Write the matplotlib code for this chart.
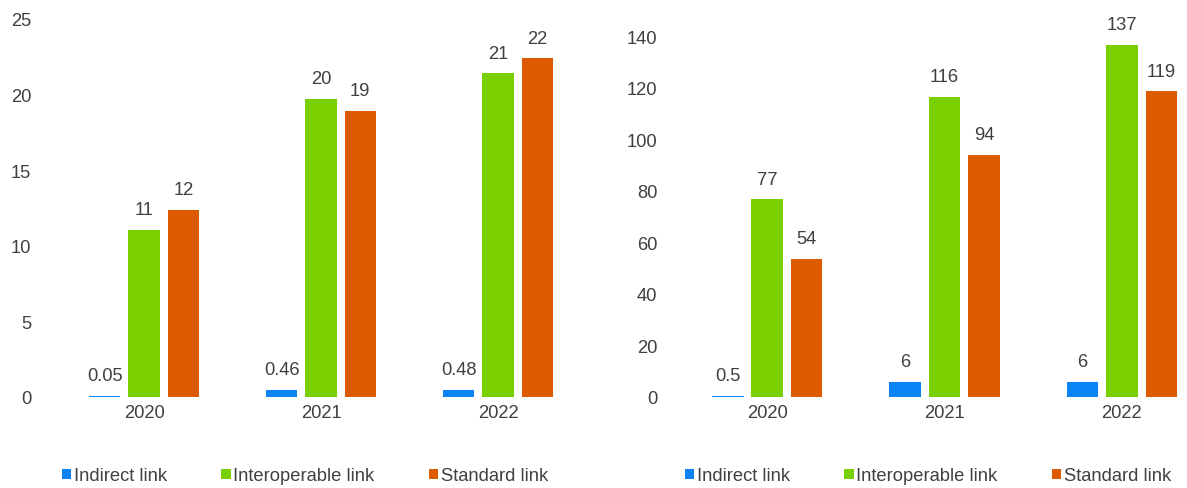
import matplotlib.pyplot as plt
import numpy as np
from matplotlib.patches import Patch

plt.rcParams["font.family"] = ["Liberation Sans", "DejaVu Sans"]

YEARS = ["2020", "2021", "2022"]
SERIES = ["Indirect link", "Interoperable link", "Standard link"]
COLORS = ["#0A84F5", "#7ACF00", "#DC5A00"]

# left panel
LEFT_INDIRECT = [0.05, 0.46, 0.48]
LEFT_INTEROP = [11.05, 19.7, 21.4]
LEFT_STANDARD = [12.4, 18.9, 22.4]
LEFT_LABELS = [["0.05", "0.46", "0.48"], ["11", "20", "21"], ["12", "19", "22"]]

# right panel
RIGHT_INDIRECT = [0.5, 5.8, 5.8]
RIGHT_INTEROP = [76.6, 116.4, 136.6]
RIGHT_STANDARD = [53.5, 94.0, 118.5]
RIGHT_LABELS = [["0.5", "6", "6"], ["77", "116", "137"], ["54", "94", "119"]]

TEXT = "#404040"
FS = 13.2
W, H = 1187, 489


def draw_panel(ax, series, labels, ymax, ystep, ypad):
    x = np.arange(len(YEARS))
    offsets = [-0.222, 0.0, 0.222]
    for vals, labs, off, color in zip(series, labels, offsets, COLORS):
        bars = ax.bar(x + off, vals, width=0.178, color=color, linewidth=0)
        for b, lab in zip(bars, labs):
            ax.annotate(lab, (b.get_x() + b.get_width() / 2, b.get_height()),
                        xytext=(0, 8.5), textcoords="offset points",
                        ha="center", va="bottom", fontsize=FS, color=TEXT)
    ax.set_ylim(0, ymax)
    ax.set_yticks(np.arange(0, ymax + 1, ystep))
    ax.set_xticks(x)
    ax.set_xticklabels(YEARS)
    for s in ax.spines.values():
        s.set_visible(False)
    ax.tick_params(length=0, labelsize=FS, labelcolor=TEXT)
    ax.tick_params(axis="y", pad=ypad)
    ax.tick_params(axis="x", pad=5)


fig = plt.figure(figsize=(W / 100, H / 100), dpi=100)

ax1 = fig.add_axes([52 / W, 91 / H, (590 - 52) / W, 378 / H])
draw_panel(ax1, [LEFT_INDIRECT, LEFT_INTEROP, LEFT_STANDARD], LEFT_LABELS, 25, 5, 15)
ax1.set_xlim(-0.52, 2.52)

ax2 = fig.add_axes([674 / W, 91 / H, (1184 - 674) / W, 361 / H])
draw_panel(ax2, [RIGHT_INDIRECT, RIGHT_INTEROP, RIGHT_STANDARD], RIGHT_LABELS, 140, 20, 12)
ax2.set_xlim(-0.525, 2.35)

handles = [Patch(facecolor=c, edgecolor="none") for c in COLORS]
for cx in (305, 928):
    fig.legend(handles, SERIES, loc="center", bbox_to_anchor=(cx / W, 12 / H),
               ncol=3, frameon=False, fontsize=FS, labelcolor=TEXT,
               handlelength=0.5, handleheight=0.5, handletextpad=0.15,
               columnspacing=2.95, borderpad=0)

fig.savefig("out.png", dpi=100)
